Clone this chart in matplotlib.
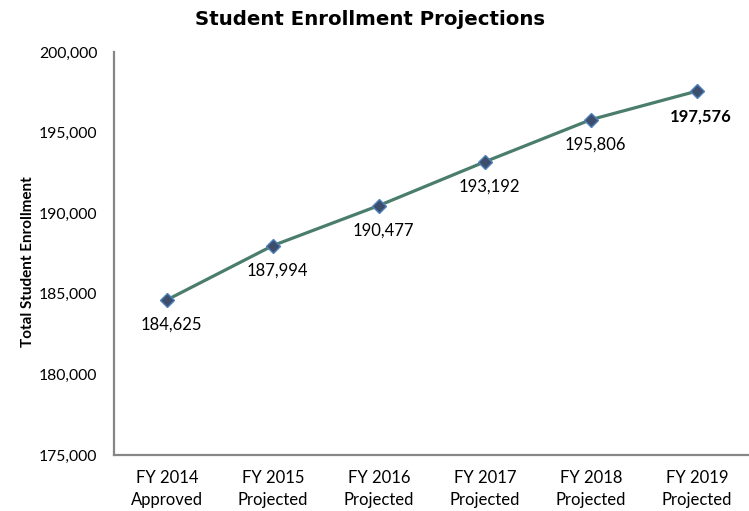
import matplotlib
matplotlib.use("Agg")
import matplotlib.pyplot as plt
from matplotlib.ticker import FuncFormatter

categories = ["FY 2014\nApproved", "FY 2015\nProjected", "FY 2016\nProjected",
              "FY 2017\nProjected", "FY 2018\nProjected", "FY 2019\nProjected"]
enrollment = [184625, 187994, 190477, 193192, 195806, 197576]
y_ticks = [175000, 180000, 185000, 190000, 195000, 200000]

plt.rcParams['font.family'] = ['Lato', 'DejaVu Sans']

W, H = 749, 511
L, R, T, B = 114, 750, 52, 455
fig = plt.figure(figsize=(W / 100, H / 100), dpi=100)
ax = fig.add_axes([L / W, 1 - B / H, (R - L) / W, (B - T) / H])

x = list(range(len(categories)))
ax.plot(x, enrollment, color="#4a7d6b", lw=2.3, zorder=2)
ax.plot(x, enrollment, ls="none", marker="D", ms=7, mfc="#3c4e6c",
        mec="#4f81bd", mew=1.0, zorder=3)

for i, v in enumerate(enrollment):
    last = i == len(enrollment) - 1
    ax.annotate(f"{v:,}", (i, v), xytext=(4, -25), textcoords="offset pixels",
                ha="center", va="center", fontsize=12,
                fontweight="bold" if last else "normal", color="black")

ax.set_xlim(-0.5, 5.5)
ax.set_ylim(175000, 200000)
ax.set_xticks(x)
ax.set_xticklabels(categories, fontsize=12, linespacing=1.45)
ax.set_yticks(y_ticks)
ax.yaxis.set_major_formatter(FuncFormatter(lambda v, p: f"{int(v):,}"))
ax.tick_params(axis="y", length=0, pad=12, labelsize=11.3)
ax.tick_params(axis="x", length=0, pad=11)

for s in ["top", "right"]:
    ax.spines[s].set_visible(False)
for s in ["left", "bottom"]:
    ax.spines[s].set_color("#868686")
    ax.spines[s].set_linewidth(1.6)

fig.text(28 / W, 1 - 262 / H, "Total Student Enrollment", rotation=90,
         ha="center", va="center", fontsize=11, fontweight="bold")

fig.text(370 / W, 1 - 19 / H, "Student Enrollment Projections", ha="center",
         va="center", fontsize=14.2, fontweight="bold", family="DejaVu Sans")

fig.savefig("out.png", dpi=100)
